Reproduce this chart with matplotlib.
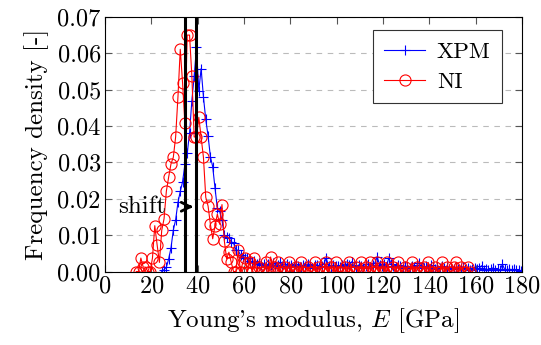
import numpy as np
import matplotlib
matplotlib.use("Agg")
import matplotlib.pyplot as plt
from matplotlib.ticker import FormatStrFormatter, MultipleLocator

plt.rcParams['font.family'] = 'serif'
plt.rcParams['font.serif'] = ['cmr10']
plt.rcParams['mathtext.fontset'] = 'cm'
plt.rcParams['axes.formatter.use_mathtext'] = True

# XPM histogram (bin centres 24.5 ... 179.5)
xpm_x = np.arange(24.5, 180.0, 1.0)
xpm_y = [
    0.0000, 0.0005, 0.0012, 0.0035, 0.0065, 0.0114, 0.0142, 0.0190, 0.0220, 0.0247,
    0.0295, 0.0325, 0.0380, 0.0470, 0.0537, 0.0616, 0.0497, 0.0558, 0.0480, 0.0418,
    0.0373, 0.0316, 0.0288, 0.0229, 0.0174, 0.0165, 0.0142, 0.0100, 0.0095, 0.0091,
    0.0082, 0.0078, 0.0060, 0.0058, 0.0045, 0.0040, 0.0037,
    0.0037, 0.0030, 0.0025, 0.0028, 0.0020, 0.0024, 0.0018, 0.0022, 0.0015, 0.0020,
    0.0017, 0.0023, 0.0014, 0.0019, 0.0025, 0.0016, 0.0012, 0.0020, 0.0015, 0.0018,
    0.0013, 0.0021, 0.0016, 0.0012, 0.0018, 0.0014, 0.0020, 0.0015, 0.0011, 0.0017,
    0.0019, 0.0013, 0.0016, 0.0022, 0.0037, 0.0015, 0.0012, 0.0018, 0.0014, 0.0016,
    0.0013, 0.0019, 0.0015, 0.0021, 0.0017, 0.0027, 0.0014, 0.0012, 0.0018, 0.0015,
    0.0011, 0.0016, 0.0020, 0.0013, 0.0017, 0.0024, 0.0040, 0.0019, 0.0015, 0.0022,
    0.0016, 0.0037, 0.0021, 0.0014, 0.0012, 0.0018, 0.0015, 0.0011, 0.0016, 0.0013,
    0.0010, 0.0015, 0.0012, 0.0017, 0.0023, 0.0013, 0.0009, 0.0014, 0.0011, 0.0019,
    0.0012, 0.0008, 0.0013, 0.0010, 0.0015, 0.0009, 0.0012, 0.0007, 0.0011, 0.0008,
    0.0010, 0.0006, 0.0009, 0.0012, 0.0007, 0.0010, 0.0005, 0.0008, 0.0011, 0.0006,
    0.0009, 0.0016, 0.0005, 0.0008, 0.0004, 0.0007, 0.0010, 0.0005, 0.0008, 0.0004,
    0.0020, 0.0006, 0.0003, 0.0007, 0.0004, 0.0006, 0.0003, 0.0005, 0.0002,
]

# NI histogram (bin centres 13.5 ... 157.5)
ni_x = np.arange(13.5, 158.0, 1.0)
ni_y = [
    0.0000, 0.0000, 0.0037, 0.0012, 0.0012, 0.0000, 0.0000, 0.0037, 0.0126, 0.0074,
    0.0025, 0.0113, 0.0145, 0.0221, 0.0260, 0.0296, 0.0314, 0.0370, 0.0480, 0.0611,
    0.0518, 0.0407, 0.0650, 0.0650, 0.0538, 0.0370, 0.0370, 0.0424, 0.0370, 0.0314,
    0.0204, 0.0180, 0.0130, 0.0090, 0.0126, 0.0158, 0.0130, 0.0184, 0.0085, 0.0035,
    0.0053, 0.0025, 0.0000, 0.0000, 0.0058, 0.0000, 0.0025, 0.0037,
    0.0000, 0.0025, 0.0000, 0.0037, 0.0000, 0.0012, 0.0000, 0.0000, 0.0025, 0.0000,
    0.0040, 0.0000, 0.0012, 0.0025, 0.0000, 0.0000, 0.0012, 0.0000, 0.0025, 0.0000,
    0.0000, 0.0012, 0.0000, 0.0025, 0.0000, 0.0000, 0.0012, 0.0000, 0.0000, 0.0025,
    0.0000, 0.0012, 0.0000, 0.0000, 0.0025, 0.0000, 0.0012, 0.0000, 0.0025, 0.0000,
    0.0000, 0.0000, 0.0012, 0.0000, 0.0025, 0.0000, 0.0000, 0.0012, 0.0000, 0.0025,
    0.0000, 0.0012, 0.0000, 0.0025, 0.0000, 0.0000, 0.0025, 0.0000, 0.0012, 0.0000,
    0.0025, 0.0000, 0.0000, 0.0012, 0.0000, 0.0025, 0.0000, 0.0000, 0.0012, 0.0000,
    0.0000, 0.0025, 0.0000, 0.0012, 0.0000, 0.0000, 0.0012, 0.0000, 0.0025, 0.0000,
    0.0000, 0.0012, 0.0000, 0.0000, 0.0025, 0.0000, 0.0012, 0.0000, 0.0000, 0.0012,
    0.0025, 0.0000, 0.0012, 0.0000, 0.0000, 0.0012, 0.0000,
]

# mean markers and shift arrow
vlines = [34.6, 39.3]
shift_y = 0.0178

fig = plt.figure(figsize=(5.41, 3.45), dpi=100)
ax = fig.add_axes([0.194, 0.213, 0.771, 0.738])

ax.plot(xpm_x, xpm_y, color='blue', lw=0.8, marker='+', ms=7.5, mew=0.8, label='XPM')
ax.plot(ni_x, ni_y, color='red', lw=0.8, marker='o', ms=8, mew=0.8,
        markerfacecolor='none', label='NI')

for v in vlines:
    ax.axvline(v, color='black', lw=2.2, zorder=5)

ax.annotate('', xy=(vlines[1], shift_y), xytext=(vlines[0], shift_y),
            arrowprops=dict(arrowstyle='->', lw=2, color='black', mutation_scale=16),
            zorder=6)
ax.text(26.5, shift_y, 'shift', ha='right', va='center', fontsize=18)

ax.set_xlim(0, 180)
ax.set_ylim(0, 0.07)
ax.xaxis.set_major_locator(MultipleLocator(20))
ax.yaxis.set_major_locator(MultipleLocator(0.01))
ax.yaxis.set_major_formatter(FormatStrFormatter('%.2f'))
ax.tick_params(direction='in', top=True, right=True, labelsize=17.5, length=5,
               color='#555555', pad=3)
ax.grid(axis='y', color='#bbbbbb', linestyle=(0, (5, 5)), lw=0.8)
ax.set_axisbelow(True)

ax.set_xlabel("Young's modulus, $E$ [GPa]", fontsize=18, labelpad=6)
ax.set_ylabel('Frequency density [-]', fontsize=18, labelpad=6)

leg = ax.legend(loc='upper right', fontsize=16.5, fancybox=False, framealpha=1,
                edgecolor='#333333', handlelength=1.8, borderpad=0.5,
                labelspacing=0.45, handletextpad=0.5, borderaxespad=0,
                bbox_to_anchor=(0.952, 0.948))
leg.get_frame().set_linewidth(0.8)

fig.savefig('out.png', dpi=100)
